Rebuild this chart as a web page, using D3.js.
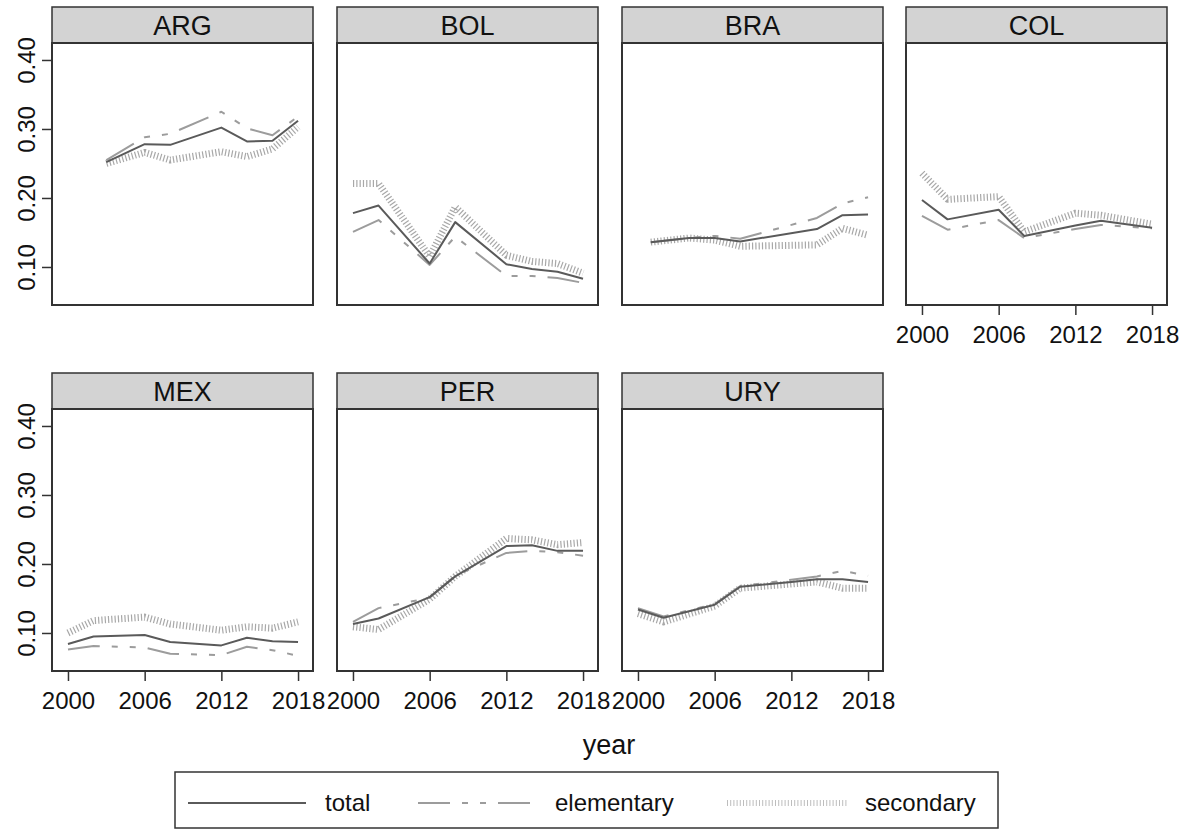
<!DOCTYPE html>
<html>
<head>
<meta charset="utf-8">
<script src="https://cdn.jsdelivr.net/npm/d3@7"></script>
<style>
  body { margin: 0; background: #fff; }
  svg { display: block; font-family: "Liberation Sans", Arial, sans-serif; }
</style>
</head>
<body>
<div id="chart"></div>
<script>
// countries in panel order
var countries = ["ARG", "BOL", "BRA", "COL", "MEX", "PER", "URY"];

// survey years per country
var yearsByCountry = [
  [2003, 2006, 2008, 2012, 2014, 2016, 2018],
  [2000, 2002, 2006, 2008, 2012, 2014, 2016, 2018],
  [2001, 2004, 2006, 2008, 2014, 2016, 2018],
  [2000, 2002, 2006, 2008, 2012, 2014, 2018],
  [2000, 2002, 2006, 2008, 2012, 2014, 2016, 2018],
  [2000, 2002, 2006, 2008, 2012, 2014, 2016, 2018],
  [2000, 2002, 2006, 2008, 2012, 2014, 2016, 2018]
];

var totalByCountry = [
  [0.252, 0.278, 0.277, 0.302, 0.282, 0.283, 0.312],
  [0.178, 0.189, 0.105, 0.165, 0.104, 0.097, 0.093, 0.083],
  [0.136, 0.142, 0.142, 0.137, 0.155, 0.175, 0.176],
  [0.197, 0.169, 0.183, 0.145, 0.160, 0.167, 0.157],
  [0.084, 0.095, 0.097, 0.087, 0.082, 0.093, 0.088, 0.087],
  [0.113, 0.121, 0.152, 0.182, 0.226, 0.227, 0.219, 0.219],
  [0.134, 0.122, 0.141, 0.167, 0.174, 0.178, 0.178, 0.174]
];

var elementaryByCountry = [
  [0.255, 0.288, 0.293, 0.325, 0.301, 0.291, 0.318],
  [0.151, 0.168, 0.103, 0.144, 0.087, 0.087, 0.084, 0.077],
  [0.136, 0.142, 0.145, 0.141, 0.171, 0.192, 0.201],
  [0.174, 0.154, 0.168, 0.142, 0.155, 0.161, 0.156],
  [0.076, 0.081, 0.079, 0.070, 0.068, 0.080, 0.075, 0.067],
  [0.116, 0.136, 0.151, 0.183, 0.216, 0.219, 0.217, 0.212],
  [0.136, 0.124, 0.142, 0.168, 0.177, 0.182, 0.190, 0.183]
];

var secondaryByCountry = [
  [0.250, 0.266, 0.255, 0.267, 0.260, 0.271, 0.303],
  [0.221, 0.221, 0.115, 0.187, 0.117, 0.108, 0.105, 0.091],
  [0.136, 0.142, 0.139, 0.130, 0.132, 0.156, 0.146],
  [0.236, 0.198, 0.202, 0.151, 0.178, 0.175, 0.162],
  [0.100, 0.118, 0.123, 0.113, 0.104, 0.109, 0.107, 0.116],
  [0.109, 0.105, 0.149, 0.182, 0.237, 0.235, 0.228, 0.231],
  [0.128, 0.116, 0.139, 0.165, 0.171, 0.174, 0.165, 0.165]
];

var xTicks = [2000, 2006, 2012, 2018];
var yTicks = [0.10, 0.20, 0.30, 0.40];
var seriesNames = ["total", "elementary", "secondary"];

//line styles
var styles = {
  total:      {stroke: "#5a5a5a", width: 2,   dash: null},
  elementary: {stroke: "#9c9c9c", width: 2,   dash: "32,12,6,12,6,12"},
  secondary:  {stroke: "#a8a8a8", width: 7,   dash: "1.2,2.1"}
};

var W = 1198, H = 829;
var colLeft = [52, 337, 622, 906];
var rowTop = [7, 373];
var panelW = 261, headH = 36, plotH = 262;

var svg = d3.select("#chart").append("svg")
  .attr("width", W).attr("height", H);

svg.append("rect").attr("width", W).attr("height", H).attr("fill", "#fff");

var x = d3.scaleLinear().domain([1998.75, 2019.17]).range([0, panelW]);
var y = d3.scaleLinear().domain([0.0449, 0.4246]).range([plotH, 0]);

var line = d3.line()
  .x(function(d) { return x(d[0]); })
  .y(function(d) { return y(d[1]); });

countries.forEach(function(c, i) {
  var row = i < 4 ? 0 : 1;
  var col = i < 4 ? i : i - 4;
  var left = colLeft[col];
  var top = rowTop[row];

  var g = svg.append("g").attr("transform", "translate(" + left + "," + top + ")");

  // header strip
  g.append("rect")
    .attr("x", 0).attr("y", 0).attr("width", panelW).attr("height", headH)
    .attr("fill", "#d3d3d3").attr("stroke", "#333").attr("stroke-width", 1.5);
  g.append("text")
    .attr("x", panelW / 2).attr("y", headH / 2 + 9.5)
    .attr("text-anchor", "middle")
    .attr("font-size", 27).attr("fill", "#111")
    .text(c);

  var p = g.append("g").attr("transform", "translate(0," + headH + ")");

  var series = [secondaryByCountry[i], elementaryByCountry[i], totalByCountry[i]];
  var names = ["secondary", "elementary", "total"];
  series.forEach(function(vals, k) {
    var st = styles[names[k]];
    var pts = yearsByCountry[i].map(function(yr, j) { return [yr, vals[j]]; });
    p.append("path")
      .attr("d", line(pts))
      .attr("fill", "none")
      .attr("stroke", st.stroke)
      .attr("stroke-width", st.width)
      .attr("stroke-dasharray", st.dash)
      .attr("stroke-linejoin", "round");
  });

  // frame
  p.append("rect")
    .attr("x", 0).attr("y", 0).attr("width", panelW).attr("height", plotH)
    .attr("fill", "none").attr("stroke", "#333").attr("stroke-width", 2);

  // y axis on first column
  if (col === 0) {
    var ya = p.append("g").call(d3.axisLeft(y).tickValues(yTicks).tickSize(10).tickFormat(d3.format(".2f")));
    ya.select(".domain").remove();
    ya.selectAll(".tick line").attr("stroke", "#333").attr("stroke-width", 1.5);
    ya.selectAll(".tick text")
      .attr("x", null).attr("dy", null)
      .attr("transform", "translate(-17,0) rotate(-90)")
      .attr("text-anchor", "middle")
      .attr("font-size", 24).attr("fill", "#111")
      .attr("font-family", "Liberation Sans, Arial, sans-serif");
  }

  // x axis on bottom panels
  if (row === 1 || col === 3) {
    var xa = p.append("g").attr("transform", "translate(0," + plotH + ")")
      .call(d3.axisBottom(x).tickValues(xTicks).tickSize(10).tickPadding(11).tickFormat(d3.format("d")));
    xa.select(".domain").remove();
    xa.selectAll(".tick line").attr("stroke", "#333").attr("stroke-width", 1.5);
    xa.selectAll(".tick text")
      .attr("font-size", 24).attr("fill", "#111")
      .attr("font-family", "Liberation Sans, Arial, sans-serif");
  }
});

// x title
svg.append("text")
  .attr("x", 609).attr("y", 754)
  .attr("text-anchor", "middle")
  .attr("font-size", 27).attr("fill", "#111")
  .text("year");

// legend
var legend = svg.append("g");
legend.append("rect")
  .attr("x", 175).attr("y", 772).attr("width", 823).attr("height", 56)
  .attr("fill", "#fff").attr("stroke", "#333").attr("stroke-width", 1.5);

var legX = [[188, 306, 325], [418, 535, 555], [727, 847, 865]];
var legY = 803;
seriesNames.forEach(function(n, k) {
  var st = styles[n];
  var sec = n === "secondary";
  legend.append("line")
    .attr("x1", legX[k][0]).attr("x2", legX[k][1])
    .attr("y1", legY).attr("y2", legY)
    .attr("stroke", sec ? "#bdbdbd" : st.stroke)
    .attr("stroke-width", sec ? 6 : st.width)
    .attr("stroke-dasharray", sec ? "1,2.2" : st.dash);
  legend.append("text")
    .attr("x", legX[k][2]).attr("y", legY + 8)
    .attr("font-size", 24).attr("fill", "#111")
    .text(n);
});
</script>
</body>
</html>
